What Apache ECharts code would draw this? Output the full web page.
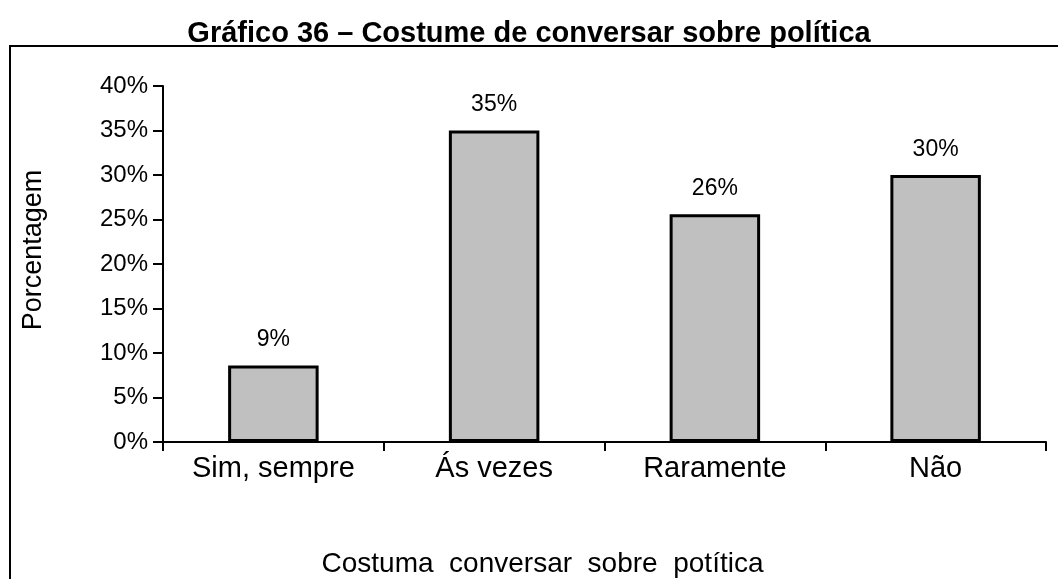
<!DOCTYPE html>
<html>
<head>
<meta charset="utf-8">
<script src="https://cdn.jsdelivr.net/npm/echarts@6/dist/echarts.min.js"></script>
<style>
  html, body { margin: 0; padding: 0; background: #fff; }
  #main { width: 1058px; height: 579px; }
</style>
</head>
<body>
<div id="main"></div>
<script>
// dados do gráfico
var categorias = ['Sim, sempre', 'Ás vezes', 'Raramente', 'Não']
var valores = [8.6, 35, 25.6, 30]
var rotulos = ['9%', '35%', '26%', '30%']
var ticksY = [0, 5, 10, 15, 20, 25, 30, 35, 40]

var fonte = '"Liberation Sans", Arial, sans-serif'
var myChart = echarts.init(document.getElementById('main'))

var option = {
  backgroundColor: '#fff',
  animation: false,
  title: {
    text: 'Gráfico 36 – Costume de conversar sobre política',
    left: 'center',
    top: 14,
    textStyle: { fontFamily: fonte, fontSize: 29, fontWeight: 'bold', color: '#000' }
  },
  graphic: [
    {
      type: 'rect',
      shape: { x: 10, y: 46, width: 1060, height: 600 },
      style: { fill: 'none', stroke: '#000', lineWidth: 2 },
      silent: true
    }
  ],
  grid: { left: 163, right: 12, top: 86, bottom: 137, outerBoundsMode: 'none', containLabel: false },
  xAxis: {
    type: 'category',
    data: categorias,
    name: 'Costuma  conversar  sobre  potítica',
    nameLocation: 'middle',
    nameGap: 108,
    nameTextStyle: { fontFamily: fonte, fontSize: 28, color: '#000', padding: [0, 124, 0, 0] },
    axisLine: { lineStyle: { color: '#000', width: 2 } },
    axisTick: { show: true, length: 9, lineStyle: { color: '#000', width: 2 } },
    axisLabel: { fontFamily: fonte, fontSize: 29, color: '#000', margin: 12 }
  },
  yAxis: {
    type: 'value',
    min: 0,
    max: 40,
    interval: 5,
    name: 'Porcentagem',
    nameLocation: 'middle',
    nameGap: 116,
    nameTextStyle: { fontFamily: fonte, fontSize: 27, color: '#000', padding: [0, 0, 0, 28] },
    axisLine: { show: true, lineStyle: { color: '#000', width: 2 } },
    axisTick: { show: true, length: 10, lineStyle: { color: '#000', width: 2 } },
    splitLine: { show: false },
    axisLabel: {
      fontFamily: fonte,
      fontSize: 24,
      color: '#000',
      margin: 15,
      formatter: function (v) { return ticksY.indexOf(v) >= 0 ? v + '%' : '' }
    }
  },
  series: [
    {
      type: 'bar',
      data: valores,
      barWidth: '41%',
      itemStyle: { color: '#c0c0c0', borderColor: '#000', borderWidth: 3 },
      label: {
        show: true,
        position: 'top',
        distance: 14,
        fontFamily: fonte,
        fontSize: 23,
        color: '#000',
        formatter: function (p) { return rotulos[p.dataIndex] }
      }
    }
  ]
}

myChart.setOption(option)
</script>
</body>
</html>
